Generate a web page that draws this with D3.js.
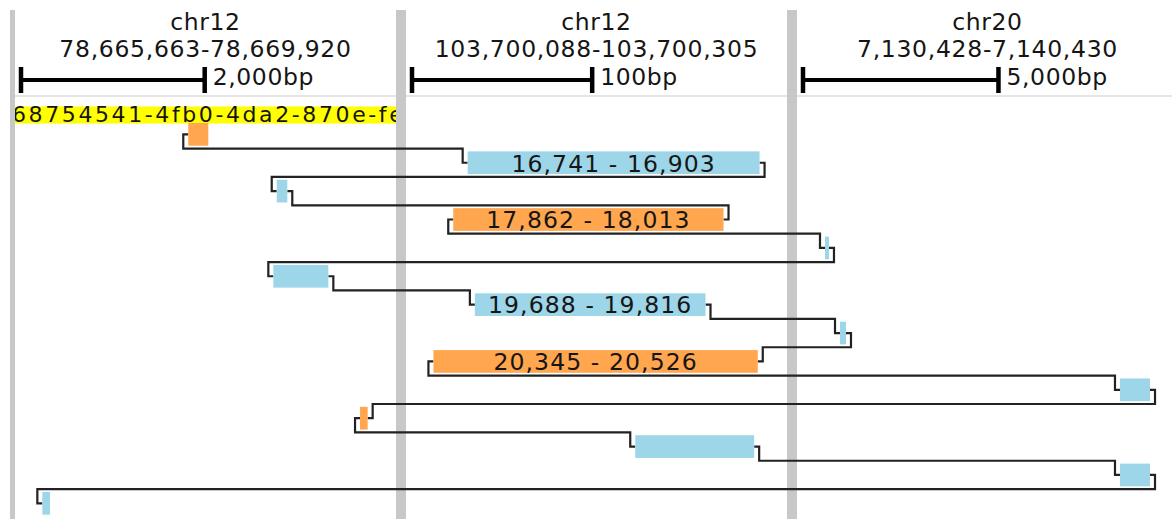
<!DOCTYPE html>
<html><head><meta charset="utf-8">
<script src="https://cdn.jsdelivr.net/npm/d3@7"></script>
<style>
body{margin:0;background:#fff;}
text{font-family:"DejaVu Sans",sans-serif;fill:#151515;}
</style>
</head><body><svg id="c" width="1172" height="519"></svg>
<script>
// ---- data ----
const panelChroms = ["chr12", "chr12", "chr20"];
const panelStarts = [78665663, 103700088, 7130428];
const panelEnds = [78669920, 103700305, 7140430];
const scaleBarBp = [2000, 100, 5000];
const readName = "68754541-4fb0-4da2-870e-fe";
const alnPanel = [0, 1, 0, 1, 2, 0, 1, 2, 1, 2, 0, 1, 2, 0];
const alnStrand = ["-", "+", "+", "-", "+", "+", "+", "+", "-", "+", "-", "+", "+", "+"];
const alnRefStart = [78667604, 103700125, 78668567, 103700117, 7131272, 78668530, 103700129, 7131656, 103700106, 7138818, 78669474, 103700218, 7138818, 78666015];
const alnRefEnd = [78667822, 103700287, 78668682, 103700267, 7131374, 78669129, 103700257, 7131809, 103700286, 7139586, 78669557, 103700284, 7139586, 78666099];
const alnReadStart = [null, 16741, null, 17862, null, null, 19688, null, 20345, null, null, null, null, null];
const alnReadEnd = [null, 16903, null, 18013, null, null, 19816, null, 20526, null, null, null, null, null];

(function () {
// ---- layout ----
const W = 1172, H = 519, padL = 10, padT = 10, panelW = 391;
const FS = 23.5;
const colors = {"+": "#9dd6e8", "-": "#ffa64f"};
const svg = d3.select("#c");
const defs = svg.append("defs");
defs.append("clipPath").attr("id", "all").append("rect")
  .attr("x", padL).attr("y", padT).attr("width", W - padL).attr("height", H - padT);
defs.append("clipPath").attr("id", "p0").append("rect")
  .attr("x", padL).attr("y", padT).attr("width", panelW - 4).attr("height", H - padT);

const g = svg.append("g").attr("clip-path", "url(#all)");
const xScales = panelStarts.map((s, i) => d3.scaleLinear().domain([s, panelEnds[i]])
  .range([padL + panelW * i, padL + panelW * (i + 1)]));
const rowTop = d3.scaleLinear().domain([1, 14]).range([123, 492]);
const step = rowTop(2) - rowTop(1);
const boxH = 22.7;
const fmt = d3.format(",");

// header separator line
g.append("line").attr("x1", 0).attr("x2", W).attr("y1", 96).attr("y2", 96)
  .attr("stroke", "#dcdcdc").attr("stroke-width", 1.5);

// headers
panelChroms.forEach((c, i) => {
  const x0 = padL + panelW * i, cx = x0 + panelW / 2;
  g.append("text").attr("x", cx).attr("y", 30).attr("text-anchor", "middle")
    .attr("font-size", FS).attr("letter-spacing", 0.6).text(c);
  g.append("text").attr("x", cx).attr("y", 57).attr("text-anchor", "middle")
    .attr("font-size", FS).attr("letter-spacing", 0.7)
    .text(fmt(panelStarts[i]) + "-" + fmt(panelEnds[i]));
  const sx0 = x0 + 11;
  const sx1 = sx0 + (xScales[i](panelStarts[i] + scaleBarBp[i]) - xScales[i](panelStarts[i]));
  g.append("line").attr("x1", sx0).attr("x2", sx1).attr("y1", 80).attr("y2", 80)
    .attr("stroke", "#000").attr("stroke-width", 4);
  [sx0, sx1].forEach(x => g.append("line").attr("x1", x).attr("x2", x).attr("y1", 67).attr("y2", 93)
    .attr("stroke", "#000").attr("stroke-width", 4.5));
  g.append("text").attr("x", sx1 + 8).attr("y", 85).attr("font-size", FS).attr("letter-spacing", 0.6)
    .text(fmt(scaleBarBp[i]) + "bp");
});

// read name label
const lab = g.append("g").attr("clip-path", "url(#p0)");
lab.append("rect").attr("x", padL + 1).attr("y", 106.5).attr("width", panelW).attr("height", 17)
  .attr("fill", "#ffff00");
lab.append("text").attr("x", 12).attr("y", 122).attr("font-size", 22).attr("letter-spacing", 2.6)
  .text(readName);

// separator bars
d3.range(3).forEach(i => {
  g.append("rect").attr("x", padL + panelW * i - 5).attr("y", padT).attr("width", 10).attr("height", H - padT)
    .attr("fill", "#c8c8c8");
});

// boxes geometry
const boxes = alnPanel.map((p, k) => {
  const xs = xScales[p];
  const x0 = xs(alnRefStart[k]), x1 = xs(alnRefEnd[k]);
  const y = rowTop(k + 1);
  return {k, x0, x1, y, mid: y + boxH / 2, strand: alnStrand[k]};
});

// connectors
const off = 5;
for (let k = 0; k < boxes.length - 1; k++) {
  const a = boxes[k], b = boxes[k + 1];
  const ex = a.strand === "+" ? a.x1 : a.x0;
  const exo = a.strand === "+" ? ex + off : ex - off;
  const nx = b.strand === "+" ? b.x0 : b.x1;
  const nxo = b.strand === "+" ? nx - off : nx + off;
  const gapY = b.y - (step - boxH) / 2;
  const p = d3.path();
  p.moveTo(ex, a.mid); p.lineTo(exo, a.mid); p.lineTo(exo, gapY);
  p.lineTo(nxo, gapY); p.lineTo(nxo, b.mid); p.lineTo(nx, b.mid);
  g.append("path").attr("d", p.toString()).attr("fill", "none")
    .attr("stroke", "#222").attr("stroke-width", 2.2);
}

// boxes
g.selectAll("rect.aln").data(boxes).join("rect").attr("class", "aln")
  .attr("x", d => d.x0).attr("y", d => d.y)
  .attr("width", d => Math.max(2, d.x1 - d.x0)).attr("height", boxH)
  .attr("fill", d => colors[d.strand]);

// box labels
g.selectAll("text.lbl").data(boxes.filter(d => alnReadStart[d.k] !== null)).join("text")
  .attr("class", "lbl")
  .attr("x", d => (d.x0 + d.x1) / 2).attr("y", d => d.mid + 8.8)
  .attr("text-anchor", "middle").attr("font-size", FS).attr("letter-spacing", 1.1)
  .text(d => fmt(alnReadStart[d.k]) + " - " + fmt(alnReadEnd[d.k]));
})();
</script>
</body></html>
